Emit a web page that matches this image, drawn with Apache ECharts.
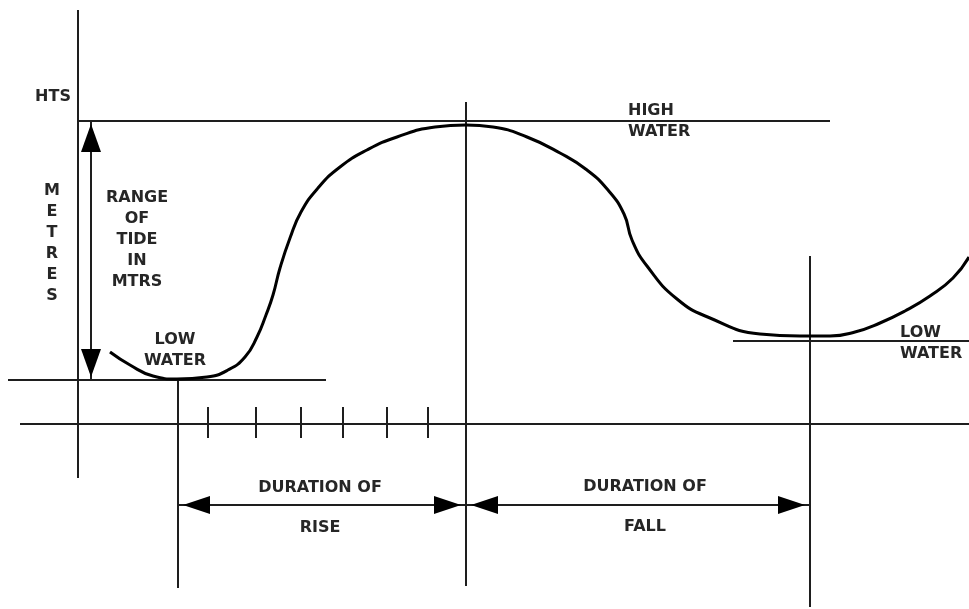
<!DOCTYPE html>
<html>
<head>
<meta charset="utf-8">
<title>Tide curve</title>
<script src="https://cdn.jsdelivr.net/npm/echarts@6/dist/echarts.min.js"></script>
<style>
  html, body { margin: 0; padding: 0; background: #fff; }
  #chart { width: 969px; height: 609px; }
</style>
</head>
<body>
<div id="chart"></div>
<script>
// diagram units (x = time, y = height, measured downwards from the top)
const tideCurve = [
  [110, 352], [130, 365], [153, 376], [177, 379], [207, 377], [228, 370],
  [245, 357], [257, 337], [266, 315], [273, 295], [280, 268], [290, 238],
  [301, 212], [318, 188], [340, 167], [367, 150], [397, 137], [435, 127],
  [466, 125], [493, 127], [527, 137], [560, 153], [587, 170], [608, 190],
  [624, 214], [632, 240], [647, 266], [677, 299], [710, 318], [760, 334],
  [800, 336], [830, 336], [855, 332], [880, 323], [905, 311], [930, 296],
  [953, 278], [969, 257]
];

const highWater = 121;
const lowWaterLeft = 380;
const lowWaterRight = 341;
const timeAxisY = 424;
const riseStart = 178;
const highWaterTime = 466;
const fallEnd = 810;
const tickX = [208, 256, 301, 343, 387, 428];

// plain guide lines [[x1, y1], [x2, y2]]
const guideLines = [
  [[78, 10], [78, 478]],                          // height axis
  [[20, timeAxisY], [969, timeAxisY]],            // time axis
  [[78, highWater], [830, highWater]],            // high water
  [[8, lowWaterLeft], [326, lowWaterLeft]],       // low water (left)
  [[733, lowWaterRight], [969, lowWaterRight]],   // low water (right)
  [[riseStart, lowWaterLeft], [riseStart, 588]],
  [[highWaterTime, 102], [highWaterTime, 586]],
  [[fallEnd, 256], [fallEnd, 607]]
];

const arrowLines = [
  [[91, highWater], [91, lowWaterLeft]],          // range of tide
  [[riseStart, 505], [highWaterTime, 505]],       // duration of rise
  [[highWaterTime, 505], [fallEnd, 505]]          // duration of fall
];

const labels = [
  { pos: [53, 97], text: 'HTS' },
  { pos: [52, 243], text: 'M\nE\nT\nR\nE\nS' },
  { pos: [137, 240], text: 'RANGE\nOF\nTIDE\nIN\nMTRS' },
  { pos: [175, 350], text: 'LOW\nWATER' },
  { pos: [628, 121], text: 'HIGH\nWATER', align: 'left' },
  { pos: [900, 343], text: 'LOW\nWATER', align: 'left' },
  { pos: [320, 488], text: 'DURATION OF' },
  { pos: [320, 528], text: 'RISE' },
  { pos: [645, 487], text: 'DURATION OF' },
  { pos: [645, 527], text: 'FALL' }
];

const ink = '#1e1e1e';

const segs = guideLines.concat(arrowLines, tickX.map(x => [[x, 407], [x, 438]]));

// arrow heads: a triangle at each end of an arrow line, tip pointing outwards
function heads() {
  const out = [];
  arrowLines.forEach(([a, b]) => {
    [[a, b], [b, a]].forEach(([tip, tail]) => {
      const dx = tip[0] - tail[0], dy = tip[1] - tail[1];
      const len = Math.hypot(dx, dy);
      const ux = dx / len, uy = dy / len;
      const vertical = Math.abs(uy) > 0.5;
      const w = vertical ? 20 : 18;
      const h = vertical ? 28 : 27;
      const gap = vertical ? 3 : 5;
      const rot = Math.atan2(-uy, ux) * 180 / Math.PI - 90;
      out.push({
        value: [tip[0] - ux * gap, tip[1] - uy * gap],
        symbolSize: [w, h],
        symbolRotate: rot,
        symbolOffset: [-ux * h / 2, -uy * h / 2]
      });
    });
  });
  return out;
}

const chart = echarts.init(document.getElementById('chart'));

const option = {
  backgroundColor: '#fff',
  animation: false,
  grid: { left: 0, right: 0, top: 0, bottom: 0 },
  xAxis: { type: 'value', min: 0, max: 969, show: false },
  yAxis: { type: 'value', min: 0, max: 609, inverse: true, show: false },
  series: [
    {
      type: 'lines',
      coordinateSystem: 'cartesian2d',
      symbol: ['none', 'none'],
      lineStyle: { color: ink, width: 2, opacity: 1 },
      data: segs.map(s => ({ coords: s }))
    },
    {
      type: 'scatter',
      symbol: 'triangle',
      itemStyle: { color: '#000', opacity: 1 },
      data: heads()
    },
    {
      type: 'line',
      data: tideCurve,
      smooth: 0.5,
      showSymbol: false,
      lineStyle: { color: '#000', width: 3 }
    },
    {
      type: 'scatter',
      symbolSize: 0,
      itemStyle: { opacity: 1 },
      data: labels.map(l => ({
        value: l.pos,
        label: {
          show: true,
          position: 'inside',
          formatter: l.text,
          align: l.align || 'center',
          verticalAlign: 'middle',
          fontFamily: 'DejaVu Sans',
          fontWeight: 'bold',
          fontSize: 16,
          lineHeight: 21,
          color: '#262626'
        }
      }))
    }
  ]
};

chart.setOption(option);
</script>
</body>
</html>
